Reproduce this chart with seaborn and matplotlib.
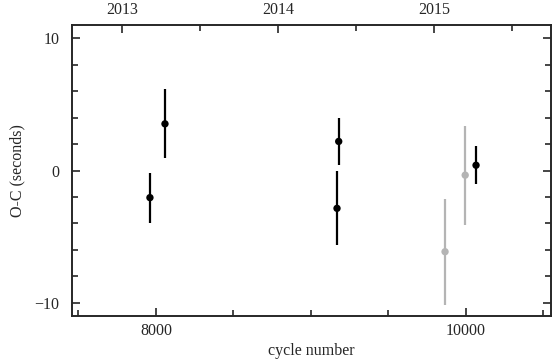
import matplotlib
matplotlib.use("Agg")
import matplotlib.pyplot as plt
import seaborn as sns
import pandas as pd
import numpy as np

# Data
cycles = [7961, 8058, 9179, 9168, 9865, 9995, 10065]
oc = [-2.05, 3.53, 2.2, -2.86, -6.14, -0.35, 0.4]
err = [1.9, 2.6, 1.8, 2.8, 4.0, 3.75, 1.45]
group = ["main", "main", "main", "main", "faint", "faint", "main"]

years = [2013, 2014, 2015]
year_cycles = [7781, 8787, 9794]

sns.set_style("ticks")
plt.rcParams['font.family'] = ['Liberation Serif', 'DejaVu Serif']
plt.rcParams['mathtext.fontset'] = 'stix'

df = pd.DataFrame({"cycle": cycles, "oc": oc, "err": err, "group": group})
palette = {"main": "black", "faint": "#b4b4b4"}

FS = 11.5
fig = plt.figure(figsize=(5.52, 3.63), dpi=100)
ax = fig.add_axes([0.1304, 0.1295, 0.8676, 0.8015])

for g, sub in df.groupby("group"):
    ax.errorbar(sub["cycle"], sub["oc"], yerr=sub["err"], fmt="none",
                ecolor=palette[g], elinewidth=1.6, capsize=0, zorder=2)
sns.scatterplot(data=df, x="cycle", y="oc", hue="group", palette=palette,
                s=28, edgecolor="none", legend=False, ax=ax, zorder=3)

ax.set_xlim(7458, 10548)
ax.set_ylim(-11, 11)
ax.set_xticks([8000, 10000])
ax.set_xticks([7500, 8500, 9000, 9500, 10500], minor=True)
ax.set_yticks([-10, 0, 10])
ax.set_yticks([-8, -6, -4, -2, 2, 4, 6, 8], minor=True)
ax.tick_params(which="both", direction="in", right=True, top=False, labelsize=FS, width=1.2)
ax.tick_params(axis="y", pad=9)
ax.tick_params(axis="x", pad=5)
ax.tick_params(which="major", length=6)
ax.tick_params(which="minor", length=4)
ax.set_xlabel("cycle number", fontsize=FS)
ax.set_ylabel("O-C (seconds)", fontsize=FS)
ax.xaxis.set_label_coords(0.5, -0.093)
ax.yaxis.set_label_coords(-0.097, 0.5)
for s in ax.spines.values():
    s.set_linewidth(1.2)

ax2 = ax.twiny()
ax2.set_xlim(ax.get_xlim())
ax2.set_xticks(year_cycles)
ax2.set_xticklabels([str(y) for y in years])
half = [(year_cycles[i] + year_cycles[i + 1]) / 2 for i in range(len(year_cycles) - 1)]
half.append(year_cycles[-1] + (year_cycles[-1] - year_cycles[-2]) / 2)
ax2.set_xticks(half, minor=True)
ax2.tick_params(which="both", direction="in", labelsize=FS, width=1.2, pad=5)
ax2.tick_params(which="major", length=6)
ax2.tick_params(which="minor", length=4)
for s in ax2.spines.values():
    s.set_linewidth(1.2)

fig.savefig("out.png", dpi=100)
